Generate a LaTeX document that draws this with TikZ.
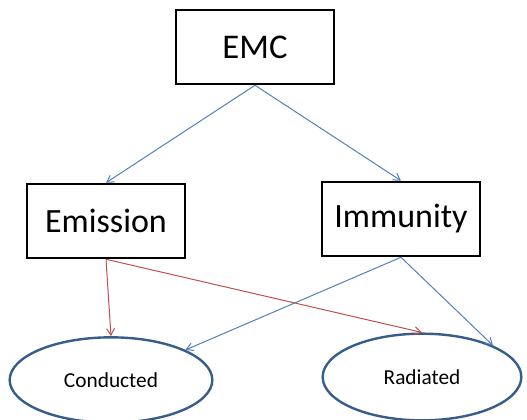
\documentclass[tikz,border=0pt]{standalone}
\usepackage{fontspec}
\setmainfont{Carlito}
\usetikzlibrary{shapes.geometric,arrows.meta}

\definecolor{linkblue}{RGB}{79,129,189}
\definecolor{linkred}{RGB}{192,80,77}
\definecolor{ovalblue}{RGB}{56,93,138}

\tikzset{
  box/.style={draw=black, line width=1.4pt, minimum width=118pt, minimum height=56pt, inner sep=0pt},
  oval/.style={ellipse, draw=ovalblue, line width=1.8pt, inner sep=0pt, font=\fontsize{16}{19}\selectfont},
}

\begin{document}
\begin{tikzpicture}[->, >={Straight Barb[length=5pt,width=6pt]}, x=0.75pt, y=-0.75pt, line width=0.75pt]
    \useasboundingbox (0,0) rectangle (527,420);
    \node [box,font=\fontsize{26}{30}\selectfont] (emc) at (255,47) {EMC};
    \node [box,font=\fontsize{25.5}{30}\selectfont] (emission) at (106,221) {Emission};
    \node [box,font=\fontsize{25.5}{30}\selectfont] (immunity) at (401,219) {Immunity};
    \node [oval,minimum width=152pt,minimum height=64pt] (conducted) at (111,380) {Conducted};
    \node [oval,minimum width=149pt,minimum height=65pt] (radiated) at (422,377) {Radiated};
    \path
    (emc.south) edge [linkblue] (emission.north)
    (emc.south) edge [linkblue] (immunity.north)
    (emission.south) edge [linkred] (conducted.north)
    (emission.south) edge [linkred] (radiated.north)
    (immunity.south) edge [linkblue] (conducted.22)
    (immunity.south) edge [linkblue] (radiated.24)
    ;
\end{tikzpicture}
\end{document}
